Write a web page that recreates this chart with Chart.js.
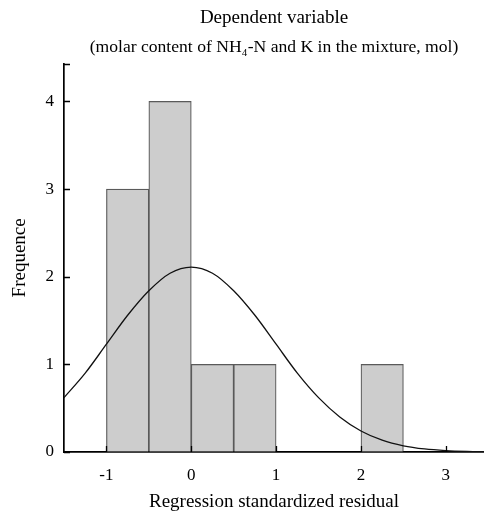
<!DOCTYPE html>
<html>
<head>
<meta charset="utf-8">
<script src="https://cdn.jsdelivr.net/npm/chart.js@4/dist/chart.umd.min.js"></script>
<style>
  html, body { margin: 0; padding: 0; background: #fff; }
  #wrap { width: 484px; height: 513px; }
</style>
</head>
<body>
<div id="wrap"><canvas id="hist"></canvas></div>
<script>
// histogram bins (centre of each 0.5-wide bin) and counts
const binCentres = [-0.75, -0.25, 0.25, 0.75, 2.25];
const binCounts = [3, 4, 1, 1, 1];

// fitted normal curve
const curveX = [-1.5, -1.25, -1, -0.75, -0.5, -0.25, 0, 0.25, 0.5, 0.75, 1, 1.25, 1.5, 1.75, 2, 2.25, 2.5, 2.75, 3, 3.25, 3.5];
const curveY = [0.62, 0.90, 1.23, 1.56, 1.84, 2.04, 2.11, 2.04, 1.84, 1.56, 1.23, 0.90, 0.62, 0.40, 0.24, 0.135, 0.071, 0.035, 0.016, 0.007, 0.003];

const xTicks = [-1, 0, 1, 2, 3];
const yTicks = [0, 1, 2, 3, 4];
const yTop = 4.43;

const serif = 'Liberation Serif';

// tick marks point into the plot, like the SPSS original
const innerTicks = {
  id: 'innerTicks',
  afterDatasetsDraw(chart) {
    const { ctx, scales: { x, y } } = chart;
    ctx.save();
    ctx.strokeStyle = '#000';
    ctx.lineWidth = 1.3;
    ctx.beginPath();
    y.ticks.forEach(t => {
      const py = Math.round(y.getPixelForValue(t.value)) + 0.5;
      ctx.moveTo(x.left, py);
      ctx.lineTo(x.left + 6, py);
    });
    x.ticks.forEach(t => {
      const px = Math.round(x.getPixelForValue(t.value)) + 0.5;
      ctx.moveTo(px, y.bottom);
      ctx.lineTo(px, y.bottom - 6);
    });
    ctx.stroke();
    ctx.restore();
  },
};

new Chart(document.getElementById('hist'), {
  type: 'bar',
  data: {
    datasets: [
      {
        type: 'line',
        data: curveX.map((x, i) => ({ x, y: curveY[i] })),
        borderColor: '#111',
        borderWidth: 1.3,
        pointRadius: 0,
        fill: false,
        tension: 0.4,
        cubicInterpolationMode: 'monotone',
        order: 0,
      },
      {
        data: binCentres.map((x, i) => ({ x, y: binCounts[i] })),
        backgroundColor: '#cdcdcd',
        borderColor: '#5a5a5a',
        borderWidth: 1.2,
        barPercentage: 1,
        categoryPercentage: 1,
        order: 1,
      },
    ],
  },
  options: {
    responsive: true,
    maintainAspectRatio: false,
    animation: false,
    layout: { padding: 0 },
    plugins: {
      legend: { display: false },
      tooltip: { enabled: false },
      title: {
        display: true,
        text: 'Dependent variable',
        font: { family: serif, size: 19, weight: 'normal', lineHeight: 1.2 },
        color: '#000',
        fullSize: false,
        padding: { top: 7, bottom: 0 },
      },
      subtitle: {
        display: true,
        text: '(molar content of NH\u2084-N and K in the mixture, mol)',
        font: { family: serif, size: 17.6, weight: 'normal', lineHeight: 1.36 },
        color: '#000',
        fullSize: false,
        padding: { top: 6, bottom: 4 },
      },
    },
    scales: {
      x: {
        type: 'linear',
        min: -1.5,
        max: 3.45,
        offset: false,
        afterBuildTicks: s => { s.ticks = xTicks.map(v => ({ value: v })); },
        afterFit: s => { s.height = 61; },
        ticks: { font: { family: serif, size: 17 }, color: '#000', padding: 13, maxRotation: 0 },
        grid: { drawOnChartArea: false, drawTicks: false, offset: false },
        border: { color: '#000', width: 1.7 },
        title: {
          display: true,
          text: 'Regression standardized residual',
          font: { family: serif, size: 19 },
          color: '#000',
          padding: { top: 0, bottom: 0 },
        },
      },
      y: {
        min: 0,
        max: yTop,
        afterBuildTicks: s => { s.ticks = yTicks.concat([yTop]).map(v => ({ value: v })); },
        afterFit: s => { s.width = 64; },
        ticks: {
          font: { family: serif, size: 17 },
          color: '#000',
          padding: 10,
          callback: v => (v === yTop ? '' : v),
        },
        grid: { drawOnChartArea: false, drawTicks: false },
        border: { color: '#000', width: 1.7 },
        title: {
          display: true,
          text: 'Frequence',
          font: { family: serif, size: 19 },
          color: '#000',
          padding: { top: 9, bottom: 0 },
        },
      },
    },
  },
  plugins: [innerTicks],
});
</script>
</body>
</html>
